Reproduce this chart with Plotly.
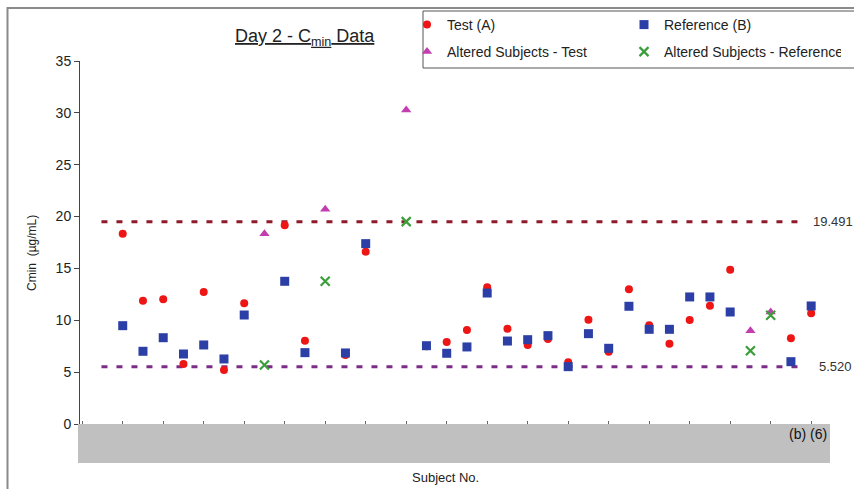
import plotly.graph_objects as go

# Day 2 Cmin by subject (subject 14 has no data)
subjects = [1, 2, 3, 4, 5, 6, 7, 9, 10, 12, 13, 16, 17, 18, 19, 20, 21, 22, 23,
            24, 25, 26, 27, 28, 29, 30, 31, 34, 35]
test_a = [18.35, 11.89, 12.02, 5.79, 12.73, 5.21, 11.64, 19.16, 8.03, 6.65, 16.62,
          7.50, 7.91, 9.06, 13.18, 9.19, 7.62, 8.20, 5.95, 10.06, 6.97, 12.99,
          9.52, 7.74, 10.03, 11.41, 14.88, 8.26, 10.67]
reference_b = [9.48, 7.01, 8.32, 6.75, 7.62, 6.27, 10.51, 13.76, 6.88, 6.85, 17.39,
               7.55, 6.82, 7.43, 12.63, 8.00, 8.13, 8.52, 5.53, 8.71, 7.30, 11.35,
               9.13, 9.13, 12.25, 12.25, 10.80, 6.01, 11.38]

altered_subjects = [8, 11, 15, 32, 33]
altered_test = [18.35, 20.70, 30.28, 9.00, 10.80]
altered_reference = [5.69, 13.76, 19.51, 7.07, 10.48]

upper_limit = 19.491
lower_limit = 5.520

y_ticks = [0, 5, 10, 15, 20, 25, 30, 35]

W, H = 854, 489
L, R, T, B = 80, 24, 61, 65
pw, ph = W - L - R, H - T - B


def px_x(p):
    return (p - L) / pw


def px_y(p):
    return (H - B - p) / ph


font = "Arial, Liberation Sans, sans-serif"

fig = go.Figure()
fig.add_trace(go.Scatter(
    x=subjects, y=test_a, mode="markers", name="Test (A)", legend="legend",
    marker=dict(symbol="circle", size=8, color="#EE1515"),
))
fig.add_trace(go.Scatter(
    x=subjects, y=reference_b, mode="markers", name="Reference (B)", legend="legend",
    marker=dict(symbol="square", size=9, color="#2C3FA6"),
))
fig.add_trace(go.Scatter(
    x=altered_subjects, y=altered_test, mode="markers", name="Altered Subjects - Test",
    legend="legend2",
    marker=dict(symbol="triangle-up", size=9, color="#C23DB0"),
))
fig.add_trace(go.Scatter(
    x=altered_subjects, y=altered_reference, mode="markers",
    name="Altered Subjects - Reference", legend="legend2",
    marker=dict(symbol="x-thin-open", size=9, color="#3A9E3A",
                line=dict(color="#3A9E3A", width=2.2)),
))

shapes = [
    # outer chart frame
    dict(type="rect", xref="paper", yref="paper",
         x0=px_x(7.5), x1=px_x(W + 10), y0=px_y(H + 10), y1=px_y(8),
         line=dict(color="#8A8A8A", width=2), fillcolor="rgba(0,0,0,0)", layer="below"),
    # limit lines
    dict(type="line", xref="x", yref="y", x0=-0.05, x1=34.55, y0=upper_limit, y1=upper_limit,
         line=dict(color="#8E1B2A", width=3, dash="6px,9px"), layer="below"),
    dict(type="line", xref="x", yref="y", x0=-0.05, x1=34.6, y0=lower_limit, y1=lower_limit,
         line=dict(color="#7A2C86", width=3, dash="6px,9px"), layer="below"),
    # legend box
    dict(type="rect", xref="paper", yref="paper",
         x0=px_x(423), x1=px_x(W + 6), y0=px_y(68), y1=px_y(11),
         line=dict(color="#555555", width=1), fillcolor="white", layer="below"),
    # redaction bar over the category labels
    dict(type="rect", xref="paper", yref="paper",
         x0=px_x(78), x1=px_x(830), y0=px_y(463), y1=0,
         line=dict(width=0), fillcolor="#C0C0C0", layer="above"),
]

annotations = [
    dict(text="<u>Day 2 - C<sub>min</sub> Data</u>", xref="paper", yref="paper",
         x=px_x(305), y=px_y(37), showarrow=False, xanchor="center", yanchor="middle",
         font=dict(family=font, size=18, color="#222222")),
    dict(text="Cmin  (µg/mL)", xref="paper", yref="paper", x=px_x(32), y=px_y(253),
         textangle=-90, showarrow=False, xanchor="center", yanchor="middle",
         font=dict(family=font, size=12, color="#222222")),
    dict(text=f"{upper_limit:.3f}", xref="paper", yref="y", x=px_x(811), y=upper_limit,
         showarrow=False, xanchor="left", yanchor="middle",
         font=dict(family=font, size=13, color="#333333")),
    dict(text=f"{lower_limit:.3f}", xref="paper", yref="y", x=px_x(817), y=lower_limit,
         showarrow=False, xanchor="left", yanchor="middle",
         font=dict(family=font, size=13, color="#333333")),
    dict(text="(b) (6)", xref="paper", yref="paper", x=px_x(829), y=px_y(434),
         showarrow=False, xanchor="right", yanchor="middle",
         font=dict(family=font, size=14, color="#111111")),
    dict(text="Subject No.", xref="paper", yref="paper", x=px_x(445), y=px_y(477),
         showarrow=False, xanchor="center", yanchor="middle",
         font=dict(family=font, size=13, color="#222222")),
]

legend_style = dict(orientation="h", xanchor="left", yanchor="middle",
                    entrywidth=172, entrywidthmode="pixels", bgcolor="rgba(0,0,0,0)",
                    font=dict(family=font, size=14, color="#222222"), borderwidth=0)

fig.update_layout(
    width=W, height=H,
    margin=dict(l=L, r=R, t=T, b=B, autoexpand=False),
    paper_bgcolor="white", plot_bgcolor="white",
    font=dict(family=font, size=13, color="#222222"),
    showlegend=True,
    legend=dict(x=px_x(407), y=px_y(25), **legend_style),
    legend2=dict(x=px_x(407), y=px_y(52), **legend_style),
    xaxis=dict(range=[-1.11, 35.93], showgrid=False, zeroline=False, showline=False,
               showticklabels=False, ticks="inside", ticklen=3, tickcolor="#666666",
               tick0=1, dtick=2, tickmode="linear"),
    yaxis=dict(range=[0, 35], showgrid=False, zeroline=False, showline=True,
               linecolor="#444444", linewidth=1, ticks="outside", ticklen=5,
               tickcolor="#444444", tickvals=y_ticks,
               tickfont=dict(family=font, size=14, color="#222222")),
    shapes=shapes,
    annotations=annotations,
)

fig.write_html("out.html")
